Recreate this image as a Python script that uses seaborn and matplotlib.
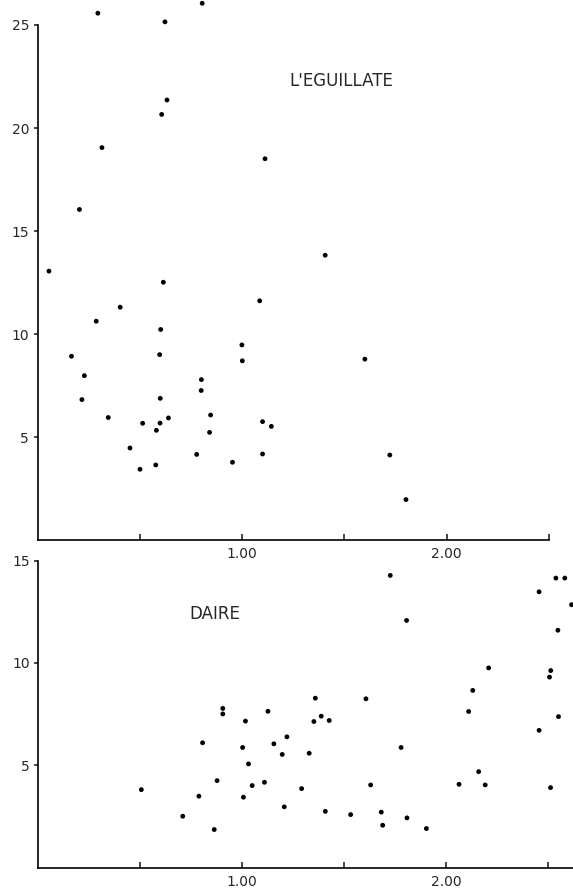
import numpy as np
import pandas as pd
import seaborn as sns
import matplotlib.pyplot as plt

### Data
eguillate_x = [0.295, 0.805, 0.623, 0.633, 0.607, 0.315, 1.112, 0.205, 0.056, 1.406,
               0.615, 1.086, 0.404, 0.287, 0.602, 0.999, 1.001, 0.597, 0.166, 0.229,
               0.801, 0.800, 0.217, 0.600, 0.346, 0.640, 0.846, 0.514, 0.599, 0.581,
               1.100, 1.143, 0.841, 0.452, 0.778, 1.100, 0.953, 0.578, 0.501, 1.600,
               1.722, 1.801]
eguillate_y = [25.57, 26.05, 25.15, 21.36, 20.66, 19.05, 18.51, 16.05, 13.06, 13.83,
               12.52, 11.62, 11.31, 10.63, 10.23, 9.48, 8.71, 9.01, 8.93, 7.99,
               7.80, 7.27, 6.83, 6.89, 5.96, 5.94, 6.08, 5.68, 5.69, 5.34,
               5.76, 5.53, 5.24, 4.48, 4.17, 4.19, 3.79, 3.66, 3.45, 8.79,
               4.14, 1.98]

daire_x = [0.506, 0.709, 0.788, 0.806, 0.863, 0.877, 0.905, 0.905, 1.016, 1.002,
           1.031, 1.006, 1.049, 1.109, 1.126, 1.155, 1.219, 1.196, 1.206, 1.291,
           1.358, 1.351, 1.387, 1.426, 1.328, 1.407, 1.531, 1.606, 1.629, 1.681,
           1.688, 1.725, 1.778, 1.805, 1.807, 1.902, 2.062, 2.109, 2.129, 2.158,
           2.190, 2.207, 2.454, 2.536, 2.580, 2.613, 2.546, 2.511, 2.505, 2.549,
           2.454, 2.510]
daire_y = [3.81, 2.51, 3.49, 6.10, 1.86, 4.25, 7.78, 7.51, 7.16, 5.87,
           5.07, 3.44, 4.01, 4.17, 7.64, 6.05, 6.39, 5.53, 2.97, 3.86,
           8.28, 7.14, 7.40, 7.19, 5.59, 2.75, 2.59, 8.25, 4.04, 2.71,
           2.07, 14.28, 5.87, 12.08, 2.43, 1.91, 4.07, 7.63, 8.66, 4.69,
           4.04, 9.76, 13.48, 14.15, 14.15, 12.85, 11.60, 9.63, 9.31, 7.38,
           6.71, 3.91]

x_ticks = [0.5, 1.0, 1.5, 2.0, 2.5]
x_tick_labels = ['', '1.00', '', '2.00', '']

df_top = pd.DataFrame({'x': eguillate_x, 'y': eguillate_y})
df_bot = pd.DataFrame({'x': daire_x, 'y': daire_y})

sns.set_style('ticks')
plt.rcParams['font.family'] = ['DejaVu Sans']

fig = plt.figure(figsize=(5.73, 8.90), dpi=100)
ax1 = fig.add_axes([37.5 / 573, 349.6 / 890, 511.5 / 573, 540.2 / 890])
ax2 = fig.add_axes([38 / 573, 22.4 / 890, 535 / 573, 311 / 890])

### Top panel
sns.scatterplot(data=df_top, x='x', y='y', ax=ax1, color='black', s=12,
                edgecolor='none', clip_on=False)
ax1.set_xlim(0, 2.5)
ax1.set_ylim(0, 26.2)
ax1.set_yticks([5, 10, 15, 20, 25])
ax1.spines['left'].set_bounds(0, 25)
ax1.text(1.23, 22.3, "L'EGUILLATE", fontsize=12, va='center', ha='left')

### Bottom panel
sns.scatterplot(data=df_bot, x='x', y='y', ax=ax2, color='black', s=12,
                edgecolor='none', clip_on=False)
ax2.set_xlim(0, 2.62)
ax2.set_ylim(0, 15.2)
ax2.set_yticks([5, 10, 15])
ax2.spines['left'].set_bounds(0, 15)
ax2.text(0.74, 12.4, 'DAIRE', fontsize=12, va='center', ha='left')

for ax in (ax1, ax2):
    sns.despine(ax=ax)
    ax.set_xticks(x_ticks)
    ax.set_xticklabels(x_tick_labels)
    ax.set_xlabel('')
    ax.set_ylabel('')
    ax.tick_params(axis='x', direction='in', length=4, width=1.2, pad=5, labelsize=10)
    ax.tick_params(axis='y', direction='out', length=3, width=1.2, pad=3, labelsize=10)
    for side in ('left', 'bottom'):
        ax.spines[side].set_linewidth(1.2)
        ax.spines[side].set_color('black')
    ax.patch.set_alpha(0)

plt.savefig('out.png', dpi=100)
plt.close()
